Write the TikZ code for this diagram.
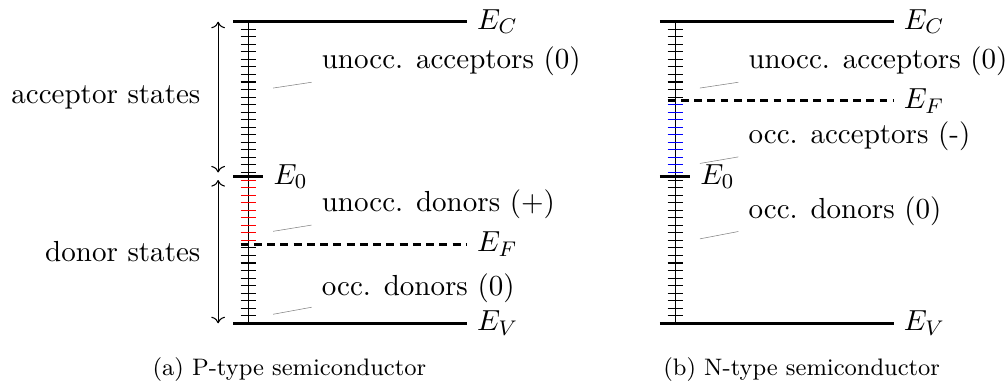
\documentclass[11pt,tikz,border=0pt]{standalone}
\usepackage{tikz}
\usetikzlibrary{arrows.meta,positioning}

\begin{document}
\begin{tikzpicture}[level/.style={very thick},fermi/.style={very thick,densely dashed},tic/.style={thin},lbl/.style={anchor=west},pinedge/.style={help lines},subcap/.style={anchor=base,font=\footnotesize}]
\useasboundingbox (-3.293,-0.832) rectangle (10.076,4.288);
% P-type
\draw[thin] (0,0) -- (0,4);
\foreach \k in {1,...,10,20,21,...,39} \draw[tic] (-0.1,\k/10) -- (0.1,\k/10);
\foreach \k in {11,...,19} \draw[tic,red] (-0.1,\k/10) -- (0.1,\k/10);
\draw[level] (-0.2,4) -- (2.9,4) coordinate (ECa);
\draw[level] (-0.2,0) -- (2.9,0) coordinate (EVa);
\draw[level] (-0.2,1.95) -- (0.2,1.95) coordinate (E0a);
\draw[fermi] (-0.1,1.05) -- (2.9,1.05) coordinate (EFa);
\node[anchor=west] (ECla) at (ECa) {$E_C$};
\node[anchor=west] (EVla) at (EVa) {$E_V$};
\node[anchor=west] (E0la) at (E0a) {$E_0$};
\node[anchor=west] (EFla) at (EFa) {$E_F$};
\coordinate (acc1) at (-0.4,4);
\coordinate (acc2) at (-0.4,2);
\coordinate (don1) at (-0.4,1.9);
\coordinate (don2) at (-0.4,0);
\draw[<->] (acc1) -- (acc2);
\draw[<->] (don1) -- (don2);
\node[anchor=east] (accst) at (-0.5,3) {acceptor states};
\node[anchor=east] (donst) at (-0.5,0.95) {donor states};
\coordinate (p1a) at (0.33,3.12);
\coordinate (p2a) at (0.33,1.22);
\coordinate (p3a) at (0.33,0.12);
\node[lbl] (l1a) at (0.84,3.475) {unocc. acceptors (0)};
\node[lbl] (l2a) at (0.84,1.574) {unocc. donors (+)};
\node[lbl] (l3a) at (0.84,0.47) {occ. donors (0)};
\draw[pinedge] (p1a) -- (l1a);
\draw[pinedge] (p2a) -- (l2a);
\draw[pinedge] (p3a) -- (l3a);
\node[subcap] (capa) at (0.546,-0.692) {(a) P-type semiconductor};
% N-type
\begin{scope}[xshift=5.66cm]
\draw[thin] (0,0) -- (0,4);
\foreach \k in {1,...,19,30,31,...,39} \draw[tic] (-0.1,\k/10) -- (0.1,\k/10);
\foreach \k in {20,...,29} \draw[tic,blue] (-0.1,\k/10) -- (0.1,\k/10);
\draw[level] (-0.2,4) -- (2.9,4) coordinate (ECb);
\draw[level] (-0.2,0) -- (2.9,0) coordinate (EVb);
\draw[level] (-0.2,1.95) -- (0.2,1.95) coordinate (E0b);
\draw[fermi] (-0.1,2.95) -- (2.9,2.95) coordinate (EFb);
\node[anchor=west] (EClb) at (ECb) {$E_C$};
\node[anchor=west] (EVlb) at (EVb) {$E_V$};
\node[anchor=west] (E0lb) at (E0b) {$E_0$};
\node[anchor=west] (EFlb) at (EFb) {$E_F$};
\coordinate (p1b) at (0.33,3.12);
\coordinate (p2b) at (0.33,2.12);
\coordinate (p3b) at (0.33,1.12);
\node[lbl] (l1b) at (0.84,3.475) {unocc. acceptors (0)};
\node[lbl] (l2b) at (0.84,2.48) {occ. acceptors (-)};
\node[lbl] (l3b) at (0.84,1.487) {occ. donors (0)};
\draw[pinedge] (p1b) -- (l1b);
\draw[pinedge] (p2b) -- (l2b);
\draw[pinedge] (p3b) -- (l3b);
\node[subcap] (capb) at (1.68,-0.692) {(b) N-type semiconductor};
\end{scope}
\end{tikzpicture}
\end{document}
